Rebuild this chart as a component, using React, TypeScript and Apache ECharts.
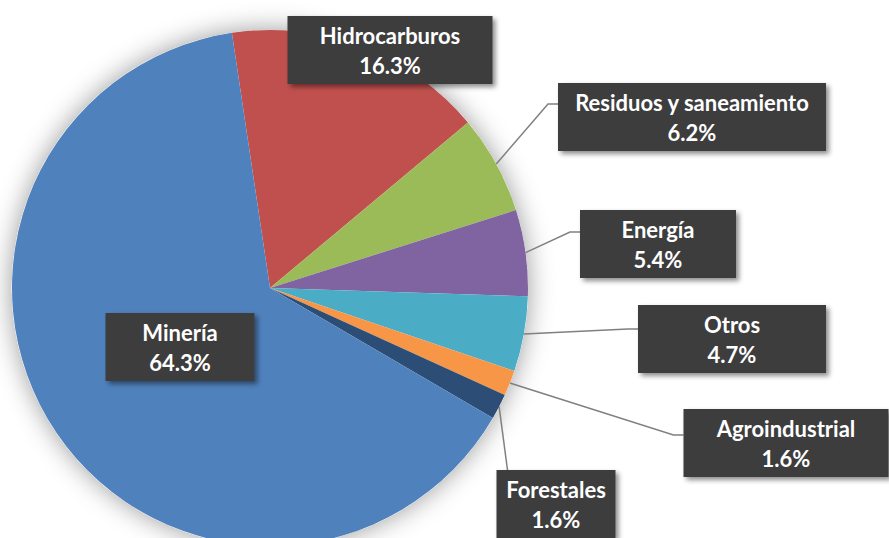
import React, { useEffect, useRef } from "react";
import * as echarts from "echarts";

const categories = ["Hidrocarburos", "Residuos y saneamiento", "Energía", "Otros", "Agroindustrial", "Forestales", "Minería"];
const values = [16.3, 6.2, 5.4, 4.7, 1.6, 1.6, 64.3];
const colors = ["#C0504D", "#9BBB59", "#8064A2", "#4BACC6", "#F79646", "#2C4D75", "#4F81BD"];

// label box layout: center x, center y, box width, leader line y (null = no line)
const labelBoxes: { cx: number; cy: number; w: number; lineY: number | null; vertical?: boolean }[] = [
  { cx: 390, cy: 50, w: 205, lineY: null },
  { cx: 692, cy: 117, w: 268, lineY: 104 },
  { cx: 658, cy: 244, w: 156, lineY: 232 },
  { cx: 732, cy: 339, w: 188, lineY: 329 },
  { cx: 786, cy: 443, w: 205, lineY: 435 },
  { cx: 556, cy: 504, w: 119, lineY: 470, vertical: true },
  { cx: 180, cy: 347, w: 149, lineY: null },
];

export default function App() {
  const ref = useRef<HTMLDivElement>(null);
  useEffect(() => {
    if (!ref.current) return;
    const chart = echarts.init(ref.current, null, { renderer: "svg" });
    const padX = 4;
    const data = categories.map((name, i) => ({
      name,
      value: values[i],
      itemStyle: { color: colors[i] },
      label: { width: labelBoxes[i].w - 2 * padX },
      labelLine: { show: labelBoxes[i].lineY !== null },
    }));
    chart.setOption({
      animation: false,
      backgroundColor: "#ffffff",
      series: [
        {
          type: "pie",
          silent: true,
          center: [270, 288],
          radius: 258,
          startAngle: 98.5,
          label: { show: false },
          labelLine: { show: false },
          itemStyle: { color: "#ffffff", shadowBlur: 26, shadowColor: "rgba(0,0,0,0.4)" },
          data: [{ value: 1 }],
          z: 1,
        },
        {
          type: "pie",
          center: [270, 288],
          radius: 258,
          startAngle: 98.5,
          clockwise: true,
          avoidLabelOverlap: false,
          z: 2,
          data,
          itemStyle: { borderWidth: 0 },
          label: {
            show: true,
            position: "outside",
            formatter: (p: any) => `${p.name}\n${p.value.toFixed(1)}%`,
            color: "#ffffff",
            fontFamily: "Lato",
            fontWeight: "bold",
            fontSize: 22,
            lineHeight: 30,
            align: "center",
            backgroundColor: "#3d3d3d",
            padding: [4, padX],
            shadowBlur: 5,
            shadowOffsetX: 3,
            shadowOffsetY: 3,
            shadowColor: "rgba(0,0,0,0.45)",
          },
          labelLine: {
            lineStyle: { color: "#808080", width: 1.5 },
          },
          labelLayout: (params: any) => {
            const b = labelBoxes[params.dataIndex];
            const out: any = { x: b.cx, y: b.cy, align: "center", verticalAlign: "middle" };
            if (b.lineY !== null && params.labelLinePoints && params.labelLinePoints[0]) {
              const s = params.labelLinePoints[0];
              if (b.vertical) {
                const p = [b.cx - b.w / 2 + 11, b.lineY];
                out.labelLinePoints = [s, p, p];
              } else {
                const end = [b.cx - b.w / 2, b.lineY];
                const elbow = [end[0] - 10, b.lineY];
                out.labelLinePoints = [s, elbow, end];
              }
            }
            return out;
          },
        },
      ],
    });
    return () => chart.dispose();
  }, []);
  return <div ref={ref} style={{ position: "fixed", left: 0, top: 0, width: 889, height: 538 }} />;
}
